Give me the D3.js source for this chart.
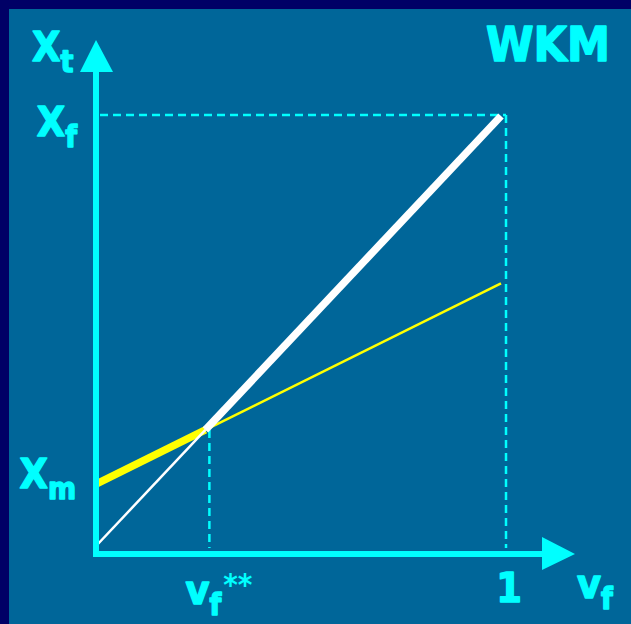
<!DOCTYPE html>
<html>
<head>
<meta charset="utf-8">
<script src="https://cdn.jsdelivr.net/npm/d3@7"></script>
<style>
  html, body { margin: 0; padding: 0; background: #000066; }
  svg { display: block; }
  text { font-family: "DejaVu Sans Condensed", "DejaVu Sans", Verdana, sans-serif; font-weight: bold; fill: #00FFFF;
         stroke: #00FFFF; stroke-width: 1.4px; stroke-linejoin: round; }
  tspan.sup { stroke-width: 0; }
</style>
</head>
<body>
<script>
// Model values (share of firms vf on x, threshold Xt on y)
const xDomain = [0, 1];
const yDomain = [0, 1];
const xm = 0.143;            // Xm: intercept of the yellow line
const xf = 1;                // Xf: top of the 45° line
const diagonal = [[0, 0], [1, 1]];          // white line Xt = vf
const yellow = [[0, xm], [1, 0.61]];        // yellow line from Xm
const tickLabels = ["1"];

const W = 631, H = 624;
const svg = d3.select("body").append("svg").attr("width", W).attr("height", H);

// Frame: dark border top/left, blue panel
svg.append("rect").attr("width", W).attr("height", H).attr("fill", "#000066");
svg.append("rect").attr("x", 9).attr("y", 9).attr("width", W - 9).attr("height", H - 9).attr("fill", "#006699");

const x = d3.scaleLinear().domain(xDomain).range([97, 501]);
const y = d3.scaleLinear().domain(yDomain).range([545, 116]);

// Intersection of the two lines
const slope = (yellow[1][1] - yellow[0][1]) / (yellow[1][0] - yellow[0][0]);
const vStar = yellow[0][1] / (1 - slope);

const line = d3.line().x(d => x(d[0])).y(d => y(d[1]));
const cyan = "#00FFFF";
const gOff = 4; // guides sit just right of the marks

// Dashed guides
const dash = (x1, y1, x2, y2) => svg.append("line")
  .attr("x1", x1).attr("y1", y1).attr("x2", x2).attr("y2", y2)
  .attr("stroke", cyan).attr("stroke-width", 2.5).attr("stroke-dasharray", "8,5");
dash(100, y(xf) - 1, x(1) + gOff + 1, y(xf) - 1);
dash(x(1) + gOff + 1, y(xf) - 1, x(1) + gOff + 1, 548);
dash(x(vStar) + gOff, y(vStar), x(vStar) + gOff, 548);

// Yellow line: thick up to vStar, thin beyond
svg.append("path").datum([yellow[0], [vStar, xm + slope * vStar]])
  .attr("d", line).attr("stroke", "#FFFF00").attr("stroke-width", 7.5).attr("fill", "none");
svg.append("path").datum([[vStar, xm + slope * vStar], yellow[1]])
  .attr("d", line).attr("stroke", "#FFFF00").attr("stroke-width", 2.5).attr("fill", "none");

// White 45° line: thin up to vStar, thick beyond
svg.append("path").datum([diagonal[0], [vStar, vStar]])
  .attr("d", line).attr("stroke", "#FFFFFF").attr("stroke-width", 2.5).attr("fill", "none");
svg.append("path").datum([[vStar, vStar], diagonal[1]])
  .attr("d", line).attr("stroke", "#FFFFFF").attr("stroke-width", 7.5).attr("fill", "none");

// Axes with arrow heads
const ox = 96, oy = 554;
svg.append("line").attr("x1", ox).attr("x2", ox).attr("y1", oy + 3).attr("y2", 70)
  .attr("stroke", cyan).attr("stroke-width", 6);
svg.append("path").attr("d", `M${ox},40 L${ox - 16},72 L${ox + 17},72 Z`).attr("fill", cyan);
svg.append("line").attr("x1", ox - 3).attr("x2", 545).attr("y1", oy).attr("y2", oy)
  .attr("stroke", cyan).attr("stroke-width", 6);
svg.append("path").attr("d", `M575,${oy} L542,${oy - 17} L542,${oy + 16} Z`).attr("fill", cyan);

// Labels
function label(xPos, yPos, main, sub, sup, anchor) {
  const t = svg.append("text").attr("x", xPos).attr("y", yPos)
    .attr("text-anchor", anchor || "start").style("font-size", "41px");
  t.append("tspan").text(main);
  if (sub) t.append("tspan").attr("dy", 11).style("font-size", "30px").text(sub);
  if (sup) t.append("tspan").attr("class", "sup").attr("dy", -20).attr("dx", 2)
    .style("font-size", "31px").text(sup);
  return t;
}
label(32, 61, "X", "t");
label(77, y(xf) + 20, "X", "f", null, "end");
label(76, y(xm) + 4, "X", "m", null, "end");
label(x(vStar) - 20, 604, "v", "f", "**");
svg.append("text").attr("x", x(1) + 8).attr("y", 602).attr("text-anchor", "middle")
  .style("font-size", "41px").text(tickLabels[0]);
label(577, 598, "v", "f");
svg.append("text").attr("x", 610).attr("y", 61).attr("text-anchor", "end")
  .style("font-size", "48px").text("WKM");
</script>
</body>
</html>
